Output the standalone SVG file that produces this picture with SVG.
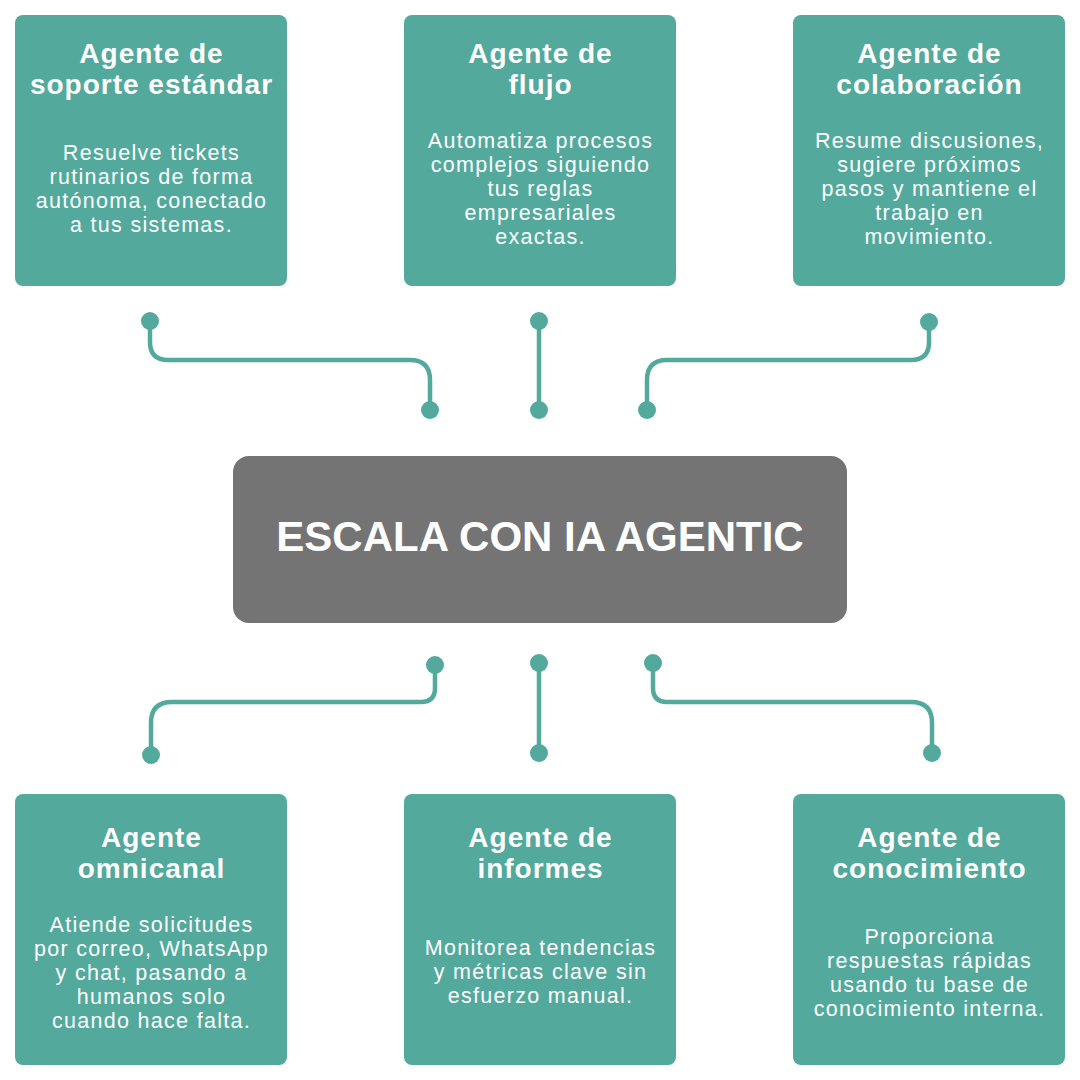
<svg xmlns="http://www.w3.org/2000/svg" width="1080" height="1080" viewBox="0 0 1080 1080">
<style>
.box{fill:#52A99C}
.center{fill:#747474}
.t{font-family:"Liberation Sans",Arial,sans-serif;font-weight:bold;font-size:28px;letter-spacing:1px;fill:#fff;text-anchor:middle}
.b{font-family:"Liberation Sans",Arial,sans-serif;font-size:21.5px;letter-spacing:1.3px;fill:#fff;text-anchor:middle}
.ct{font-family:"Liberation Sans",Arial,sans-serif;font-weight:bold;font-size:42px;fill:#fff;text-anchor:middle}
.ln{fill:none;stroke:#52A99C;stroke-width:4.5}
.dot{fill:#52A99C}
</style>
<rect width="1080" height="1080" fill="#fff"/>
<g id="connectors">
<path class="ln" d="M150 321 V342 Q150 360 168 360 H410 Q430 360 430 380 V410"/>
<path class="ln" d="M539 321 V410"/>
<path class="ln" d="M929 322 V342 Q929 360 911 360 H667 Q647 360 647 380 V410"/>
<path class="ln" d="M435 665 V688 Q435 702 421 702 H172 Q151 702 151 723 V755"/>
<path class="ln" d="M539 663 V753"/>
<path class="ln" d="M653 663 V688 Q653 702 667 702 H911 Q932 702 932 723 V753"/>
<circle class="dot" cx="150" cy="321" r="9"/><circle class="dot" cx="430" cy="410" r="9"/>
<circle class="dot" cx="539" cy="321" r="9"/><circle class="dot" cx="539" cy="410" r="9"/>
<circle class="dot" cx="929" cy="322" r="9"/><circle class="dot" cx="647" cy="410" r="9"/>
<circle class="dot" cx="435" cy="665" r="9"/><circle class="dot" cx="151" cy="755" r="9"/>
<circle class="dot" cx="539" cy="663" r="9"/><circle class="dot" cx="539" cy="753" r="9"/>
<circle class="dot" cx="653" cy="663" r="9"/><circle class="dot" cx="932" cy="753" r="9"/>
</g>
<g id="center">
<rect class="center" x="233" y="456" width="614" height="167" rx="16"/>
<text class="ct" x="540" y="551">ESCALA CON IA AGENTIC</text>
</g>
<g id="n1">
<rect class="box" x="15" y="15" width="272" height="271" rx="8"/>
<text class="t" x="151.5" y="63">Agente de</text>
<text class="t" x="151.5" y="94">soporte estándar</text>
<text class="b" x="151.5" y="160">Resuelve tickets</text>
<text class="b" x="151.5" y="184">rutinarios de forma</text>
<text class="b" x="151.5" y="208">autónoma, conectado</text>
<text class="b" x="151.5" y="232">a tus sistemas.</text>
</g>
<g id="n2">
<rect class="box" x="404" y="15" width="272" height="271" rx="8"/>
<text class="t" x="540.5" y="63">Agente de</text>
<text class="t" x="540.5" y="94">flujo</text>
<text class="b" x="540.5" y="148">Automatiza procesos</text>
<text class="b" x="540.5" y="172">complejos siguiendo</text>
<text class="b" x="540.5" y="196">tus reglas</text>
<text class="b" x="540.5" y="220">empresariales</text>
<text class="b" x="540.5" y="244">exactas.</text>
</g>
<g id="n3">
<rect class="box" x="793" y="15" width="272" height="271" rx="8"/>
<text class="t" x="929.5" y="63">Agente de</text>
<text class="t" x="929.5" y="94">colaboración</text>
<text class="b" x="929.5" y="148">Resume discusiones,</text>
<text class="b" x="929.5" y="172">sugiere próximos</text>
<text class="b" x="929.5" y="196">pasos y mantiene el</text>
<text class="b" x="929.5" y="220">trabajo en</text>
<text class="b" x="929.5" y="244">movimiento.</text>
</g>
<g id="n4">
<rect class="box" x="15" y="794" width="272" height="271" rx="8"/>
<text class="t" x="151.5" y="847">Agente</text>
<text class="t" x="151.5" y="878">omnicanal</text>
<text class="b" x="151.5" y="932">Atiende solicitudes</text>
<text class="b" x="151.5" y="956">por correo, WhatsApp</text>
<text class="b" x="151.5" y="980">y chat, pasando a</text>
<text class="b" x="151.5" y="1004">humanos solo</text>
<text class="b" x="151.5" y="1028">cuando hace falta.</text>
</g>
<g id="n5">
<rect class="box" x="404" y="794" width="272" height="271" rx="8"/>
<text class="t" x="540.5" y="847">Agente de</text>
<text class="t" x="540.5" y="878">informes</text>
<text class="b" x="540.5" y="955">Monitorea tendencias</text>
<text class="b" x="540.5" y="979">y métricas clave sin</text>
<text class="b" x="540.5" y="1003">esfuerzo manual.</text>
</g>
<g id="n6">
<rect class="box" x="793" y="794" width="272" height="271" rx="8"/>
<text class="t" x="929.5" y="847">Agente de</text>
<text class="t" x="929.5" y="878">conocimiento</text>
<text class="b" x="929.5" y="944">Proporciona</text>
<text class="b" x="929.5" y="968">respuestas rápidas</text>
<text class="b" x="929.5" y="992">usando tu base de</text>
<text class="b" x="929.5" y="1016">conocimiento interna.</text>
</g>
</svg>
